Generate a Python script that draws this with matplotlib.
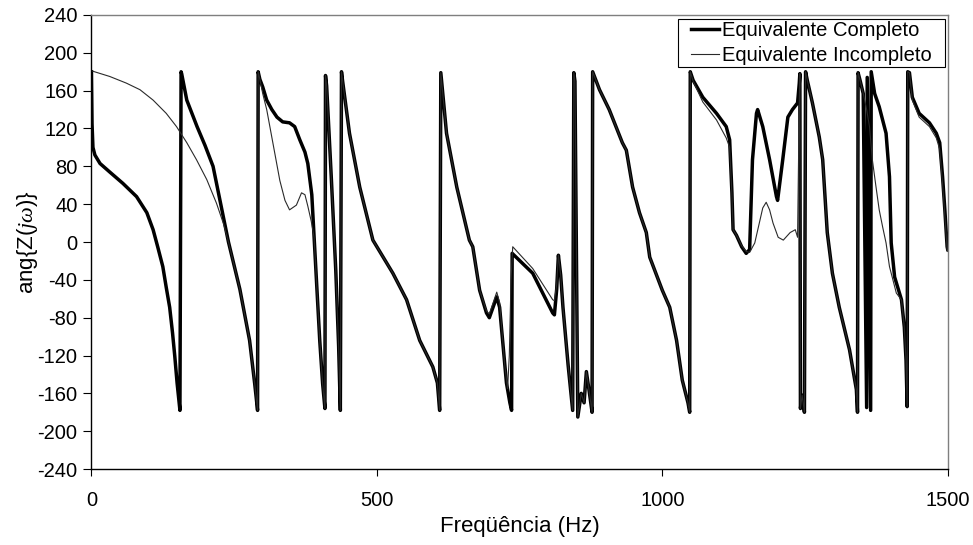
import matplotlib
matplotlib.use('Agg')
import matplotlib.pyplot as plt
from matplotlib.patches import Rectangle
from matplotlib.transforms import IdentityTransform

# (Hz, deg), wraps at +/-180 kept as vertical jumps
completo = [
    (0, 180), (1, 125), (2.6, 100), (6, 92), (15, 83), (32, 74), (55, 62), (79, 48), (97, 31),
    (108, 13), (116, -5), (125, -26), (131, -48), (137, -69), (142, -96), (146, -121),
    (150, -149), (155, -178),
    (157, 180), (158, 178), (167, 150), (185, 122), (199, 102), (213, 80), (240, 0), (260, -50),
    (277, -104), (286, -150), (291, -178),
    (292, 180), (295, 172), (300, 164), (307, 150), (316, 140), (325, 132), (335, 127),
    (347, 126), (356, 122), (365, 108), (374, 95), (379, 83), (386, 50), (390, 5), (395, -50),
    (400, -105), (405, -150), (409, -176),
    (410, 176), (412, 165), (420, 70), (428, -30), (433, -110), (436, -178),
    (438, 180), (440, 170), (452, 115), (470, 58), (493, 2), (500, -5), (528, -33), (552, -61),
    (575, -104), (598, -132), (606, -149), (610, -178),
    (612, 179), (622, 115), (640, 58), (662, 2), (668, -5), (680, -51), (692, -75), (697, -80),
    (710, -58), (715, -69), (727, -149), (733, -170), (736, -178),
    (737, -12), (773, -33), (808, -75), (811, -77), (815, -50), (818, -14), (822, -35), (826, -69),
    (835, -130), (843, -178),
    (845, 179), (847, 170), (852, -185), (858, -160), (863, -170), (867, -137), (872, -158), (877, -180),
    (878, 180), (890, 161), (907, 140), (930, 105), (937, 97), (948, 58), (960, 31), (972, 10),
    (978, -16), (1000, -51), (1013, -69), (1025, -104), (1035, -146), (1045, -170), (1048, -180),
    (1049, 180), (1054, 171), (1071, 153), (1095, 136), (1112, 122), (1118, 108), (1122, 52),
    (1124, 13), (1130, 7), (1139, -5), (1147, -12), (1153, -8), (1158, 87), (1165, 136), (1167, 140),
    (1176, 122), (1188, 87), (1200, 48), (1202, 44), (1211, 87), (1220, 132), (1228, 140),
    (1237, 147), (1240, 168), (1241, 178),
    (1242, -176), (1245, -162), (1249, -180),
    (1251, 180), (1254, 171), (1263, 147), (1275, 111), (1281, 87), (1289, 10), (1298, -33),
    (1310, -69), (1328, -114), (1340, -156), (1342, -180),
    (1343, 179), (1346, 172), (1352, 157), (1358, -175),
    (1359, 174), (1365, -178),
    (1366, 180), (1372, 157), (1380, 143), (1386, 129), (1392, 115), (1398, 69), (1401, -1),
    (1407, -37), (1419, -61), (1424, -90), (1427, -125), (1429, -174),
    (1430, 180), (1433, 179), (1438, 153), (1450, 136), (1468, 126), (1480, 115), (1486, 105),
    (1491, 69), (1495, 34), (1499, -5), (1500, -8),
]

incompleto = [
    (0, 181), (32, 175), (61, 168), (85, 161), (108, 150), (131, 136), (149, 122), (167, 105),
    (184, 87), (202, 66), (219, 41), (232, 18), (240, 0), (260, -50), (277, -104),
    (286, -150), (291, -178),
    (292, 180), (295, 172), (300, 157), (307, 140), (318, 104), (330, 65), (339, 44), (347, 34),
    (359, 39), (368, 52), (374, 50), (379, 38), (385, 22), (390, 5), (395, -50),
    (400, -105), (405, -150), (409, -176),
    (410, 176), (412, 165), (420, 70), (428, -30), (433, -110), (436, -178),
    (438, 180), (440, 170), (452, 115), (470, 58), (493, 2), (500, -5), (528, -33), (552, -61),
    (575, -104), (598, -132), (606, -149), (610, -178),
    (612, 179), (622, 115), (640, 58), (662, 2), (668, -5), (680, -51), (692, -73), (697, -76),
    (710, -53), (715, -64), (724, -130), (729, -155), (732, -120), (735, -40), (738, -5),
    (773, -28), (808, -61), (811, -62), (815, -45), (818, -14), (822, -35), (826, -69),
    (835, -130), (843, -178),
    (845, 179), (847, 170), (852, -185), (858, -160), (863, -170), (867, -137), (872, -158), (877, -180),
    (878, 180), (890, 161), (907, 140), (930, 105), (937, 97), (948, 58), (960, 31), (972, 10),
    (978, -16), (1000, -51), (1013, -69), (1025, -104), (1035, -146), (1045, -170), (1048, -180),
    (1049, 180), (1054, 170), (1071, 148), (1095, 129), (1112, 110), (1118, 100), (1122, 50),
    (1124, 13), (1130, 7), (1139, -4), (1147, -10), (1153, -11), (1162, -1), (1170, 20),
    (1176, 36), (1182, 42), (1188, 34), (1194, 20), (1203, 5), (1212, 2), (1224, 10), (1233, 13),
    (1237, 5), (1240, 150), (1241, 178),
    (1242, -176), (1245, -162), (1249, -180),
    (1251, 180), (1254, 171), (1263, 147), (1275, 111), (1281, 87), (1289, 10), (1298, -33),
    (1310, -69), (1328, -114), (1340, -156), (1342, -180),
    (1343, 179), (1346, 172), (1352, 157), (1358, 140), (1363, 122), (1368, 87), (1374, 60),
    (1380, 34), (1386, 16), (1392, -1), (1398, -26), (1404, -40), (1410, -54), (1419, -61),
    (1424, -90), (1427, -125), (1429, -174),
    (1430, 180), (1433, 179), (1438, 150), (1450, 132), (1468, 122), (1480, 110), (1486, 98),
    (1491, 62), (1495, 28), (1499, -8), (1500, -10),
]

labels = ['Equivalente Completo', 'Equivalente Incompleto']
x_ticks = [0, 500, 1000, 1500]
y_ticks = list(range(-240, 241, 40))


def make_plot():
    plt.rcParams['font.family'] = ['Liberation Sans', 'DejaVu Sans']
    plt.rcParams['mathtext.fontset'] = 'custom'
    plt.rcParams['mathtext.it'] = 'Liberation Serif:italic'
    plt.rcParams['mathtext.rm'] = 'Liberation Sans'
    plt.rcParams['axes.unicode_minus'] = False

    fig = plt.figure(figsize=(9.73, 5.45), dpi=100)
    ax = fig.add_axes([0.094, 0.1394, 0.880, 0.8331])

    f1, a1 = zip(*completo)
    f2, a2 = zip(*incompleto)
    ax.plot(f1, a1, color='black', lw=2.5, label=labels[0], solid_joinstyle='round')
    ax.plot(f2, a2, color='#2a2a2a', lw=0.8, label=labels[1])

    ax.set_xlim(0, 1500)
    ax.set_ylim(-240, 240)
    ax.set_xticks(x_ticks)
    ax.set_yticks(y_ticks)
    ax.tick_params(axis='both', labelsize=14.5, direction='out', width=0.8)
    ax.tick_params(axis='y', length=6, pad=4)
    ax.tick_params(axis='x', length=5, pad=11)

    for side in ['left', 'bottom']:
        ax.spines[side].set_color('black')
        ax.spines[side].set_linewidth(1.0)
    for side in ['top', 'right']:
        ax.spines[side].set_color('#7f7f7f')
        ax.spines[side].set_linewidth(1.0)

    ax.set_xlabel('Freqüência (Hz)', fontsize=16, labelpad=4)
    ax.set_ylabel(r'ang{Z($j\omega$)}', fontsize=16, labelpad=-1.5)

    leg = ax.legend(loc='upper right', bbox_to_anchor=(0.984, 0.991), fontsize=14.5,
                    frameon=False, borderaxespad=0, borderpad=0.1,
                    handlelength=1.4, handletextpad=0.15, labelspacing=0.3)

    # excel style legend box: wider padding left/right than top/bottom
    fig.canvas.draw()
    bb = leg.get_window_extent()
    pad_x = 11
    box = Rectangle((bb.x0 - pad_x, bb.y0), bb.width + 2 * pad_x, bb.height,
                    transform=IdentityTransform(), facecolor='white', edgecolor='black',
                    lw=0.8, zorder=4.5, clip_on=False)
    ax.add_patch(box)

    fig.savefig('out.png', dpi=100)


def main():
    make_plot()


if __name__ == '__main__':
    main()
